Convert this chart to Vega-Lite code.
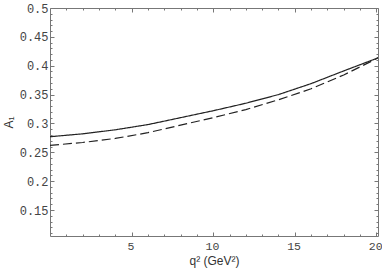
{
  "$schema": "https://vega.github.io/schema/vega-lite/v6.json",
  "width": 328,
  "height": 228,
  "autosize": {"type": "none"},
  "padding": {"left": 50, "top": 8, "right": 4, "bottom": 37},
  "background": "white",
  "config": {"view": {"stroke": null}},
  "data": {"values": [
    {"q2": 0, "A": 0.277, "model": "solid"},
    {"q2": 2, "A": 0.282, "model": "solid"},
    {"q2": 4, "A": 0.289, "model": "solid"},
    {"q2": 6, "A": 0.298, "model": "solid"},
    {"q2": 8, "A": 0.310, "model": "solid"},
    {"q2": 10, "A": 0.322, "model": "solid"},
    {"q2": 12, "A": 0.335, "model": "solid"},
    {"q2": 14, "A": 0.350, "model": "solid"},
    {"q2": 16, "A": 0.369, "model": "solid"},
    {"q2": 18, "A": 0.391, "model": "solid"},
    {"q2": 20, "A": 0.4125, "model": "solid"},
    {"q2": 20.1, "A": 0.414, "model": "solid"},
    {"q2": 0, "A": 0.262, "model": "dashed"},
    {"q2": 2, "A": 0.267, "model": "dashed"},
    {"q2": 4, "A": 0.274, "model": "dashed"},
    {"q2": 6, "A": 0.284, "model": "dashed"},
    {"q2": 8, "A": 0.297, "model": "dashed"},
    {"q2": 10, "A": 0.310, "model": "dashed"},
    {"q2": 12, "A": 0.324, "model": "dashed"},
    {"q2": 14, "A": 0.341, "model": "dashed"},
    {"q2": 16, "A": 0.360, "model": "dashed"},
    {"q2": 18, "A": 0.384, "model": "dashed"},
    {"q2": 20, "A": 0.412, "model": "dashed"},
    {"q2": 20.1, "A": 0.414, "model": "dashed"}
  ]},
  "layer": [
    {
      "mark": {"type": "line", "strokeWidth": 1.2, "color": "#222", "clip": true},
      "encoding": {
        "x": {"field": "q2", "type": "quantitative",
              "scale": {"domain": [0, 20.1], "nice": false, "zero": false},
              "axis": {"orient": "bottom", "values": [5, 10, 15, 20], "title": "q² (GeV²)",
                       "titleFont": "Liberation Sans", "titleFontSize": 12, "titleFontWeight": "normal", "titleColor": "#333", "titlePadding": 4,
                       "labelFont": "Liberation Mono", "labelFontSize": 11.5, "labelColor": "#444", "labelOffset": -1.2,
                       "tickSize": -4, "labelPadding": 8, "tickColor": "#777", "domainColor": "#777", "grid": false}},
        "y": {"field": "A", "type": "quantitative",
              "scale": {"domain": [0.105, 0.5], "nice": false, "zero": false},
              "axis": {"orient": "left", "values": [0.15, 0.2, 0.25, 0.3, 0.35, 0.4, 0.45, 0.5], "format": "~g", "title": "A₁",
                       "titleFont": "Liberation Sans", "titleFontSize": 12, "titleFontWeight": "normal", "titleColor": "#333", "titlePadding": 4,
                       "labelFont": "Liberation Mono", "labelFontSize": 12, "labelColor": "#444",
                       "tickSize": -4, "labelPadding": 6, "tickColor": "#777", "domainColor": "#777", "grid": false}},
        "strokeDash": {"field": "model", "type": "nominal",
                       "scale": {"domain": ["solid", "dashed"], "range": [[1, 0], [9, 4]]}, "legend": null}
      }
    },
    {
      "mark": {"type": "line", "opacity": 0},
      "encoding": {
        "x": {"field": "q2", "type": "quantitative",
              "axis": {"orient": "top", "values": [5, 10, 15, 20], "title": null, "labels": false,
                       "tickSize": -4, "tickColor": "#777", "domainColor": "#777", "grid": false}},
        "y": {"field": "A", "type": "quantitative",
              "axis": {"orient": "right", "values": [0.15, 0.2, 0.25, 0.3, 0.35, 0.4, 0.45, 0.5], "title": null, "labels": false,
                       "tickSize": -4, "tickColor": "#777", "domainColor": "#777", "grid": false}}
      }
    },
    {
      "mark": {"type": "line", "opacity": 0},
      "encoding": {
        "x": {"field": "q2", "type": "quantitative",
              "axis": {"orient": "bottom", "values": [1,2,3,4,6,7,8,9,11,12,13,14,16,17,18,19], "title": null, "labels": false,
                       "tickSize": -2, "tickColor": "#777", "domain": false, "grid": false}},
        "y": {"field": "A", "type": "quantitative",
              "axis": {"orient": "left", "values": [0.11,0.12,0.13,0.14,0.16,0.17,0.18,0.19,0.21,0.22,0.23,0.24,0.26,0.27,0.28,0.29,0.31,0.32,0.33,0.34,0.36,0.37,0.38,0.39,0.41,0.42,0.43,0.44,0.46,0.47,0.48,0.49], "title": null, "labels": false,
                       "tickSize": -2, "tickColor": "#777", "domain": false, "grid": false}}
      }
    },
    {
      "mark": {"type": "line", "opacity": 0},
      "encoding": {
        "x": {"field": "q2", "type": "quantitative",
              "axis": {"orient": "top", "values": [1,2,3,4,6,7,8,9,11,12,13,14,16,17,18,19], "title": null, "labels": false,
                       "tickSize": -2, "tickColor": "#777", "domain": false, "grid": false}},
        "y": {"field": "A", "type": "quantitative",
              "axis": {"orient": "right", "values": [0.11,0.12,0.13,0.14,0.16,0.17,0.18,0.19,0.21,0.22,0.23,0.24,0.26,0.27,0.28,0.29,0.31,0.32,0.33,0.34,0.36,0.37,0.38,0.39,0.41,0.42,0.43,0.44,0.46,0.47,0.48,0.49], "title": null, "labels": false,
                       "tickSize": -2, "tickColor": "#777", "domain": false, "grid": false}}
      }
    }
  ],
  "resolve": {"axis": {"x": "independent", "y": "independent"}}
}
